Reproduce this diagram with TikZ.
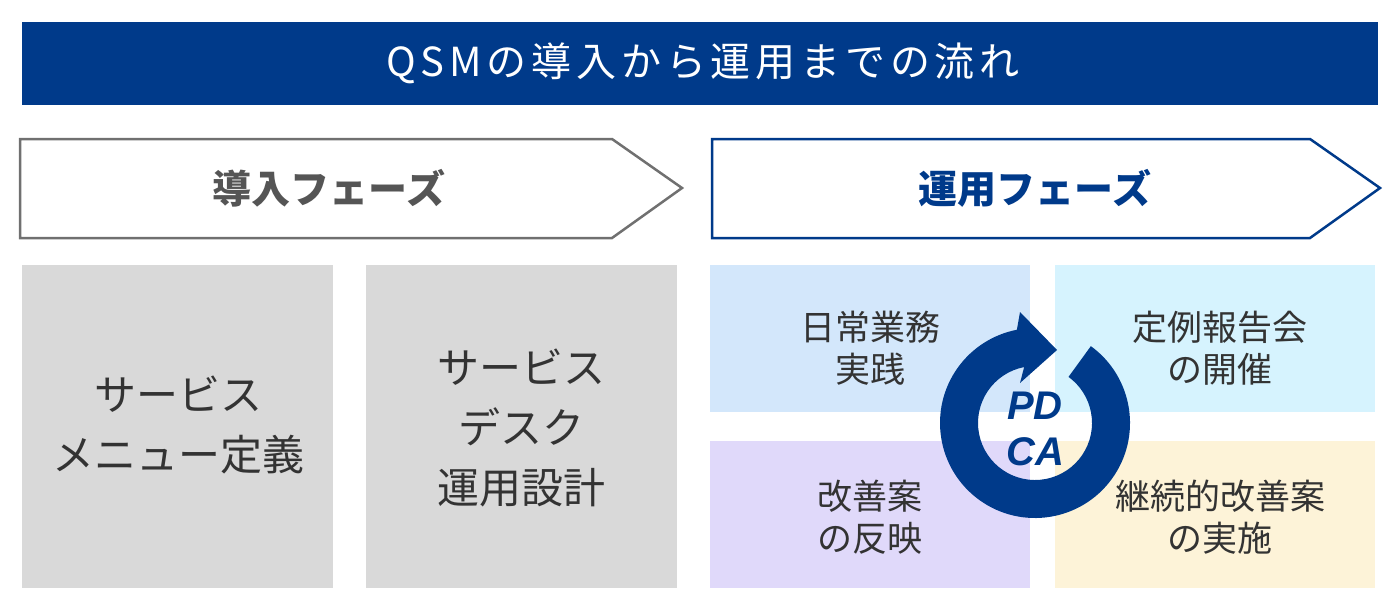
\documentclass[tikz,border=0pt]{standalone}
\usepackage{fontspec}
\setmainfont{Noto Sans CJK JP}
\newfontfamily\jpfont{Noto Sans CJK JP}
\newfontfamily\latinbi{Liberation Sans}
\definecolor{navy}{RGB}{0,58,138}
\definecolor{gstroke}{RGB}{112,112,112}
\definecolor{gtext}{RGB}{85,85,85}
\definecolor{gbox}{RGB}{217,217,217}
\definecolor{dtext}{RGB}{51,51,51}
\definecolor{qtl}{RGB}{211,231,251}
\definecolor{qtr}{RGB}{214,243,254}
\definecolor{qbl}{RGB}{224,217,250}
\definecolor{qbr}{RGB}{253,243,216}
\tikzset{
  phaselbl/.style={font=\jpfont\bfseries\fontsize{19.5}{22}\selectfont, inner sep=0pt},
  boxtxt/.style={font=\jpfont\fontsize{21}{30}\selectfont, text=dtext, align=center, inner sep=0pt},
  quadtxt/.style={font=\jpfont\fontsize{17.5}{21}\selectfont, text=dtext, align=center, inner sep=0pt},
}
\begin{document}
\begin{tikzpicture}[x=0.5pt,y=-0.5pt]
\useasboundingbox (0,0) rectangle (1400,611);
% title
\fill[navy] (22,22) rectangle (1378,105);
\node[inner sep=0pt, text=white, font=\jpfont\fontsize{20}{22}\selectfont\addfontfeature{LetterSpace=12}] (title) at (703,63) {QSMの導入から運用までの流れ};
% phase arrows
\draw[gstroke, line width=1.25pt, line join=miter] (20,139) -- (612,139) -- (682,188) -- (612,238) -- (20,238) -- cycle;
\node[phaselbl, text=gtext] (intro) at (329,188) {導入フェーズ};
\draw[navy, line width=1.25pt, line join=miter] (712,139) -- (1310,139) -- (1380,188) -- (1310,238) -- (712,238) -- cycle;
\node[phaselbl, text=navy] (ops) at (1035,188) {運用フェーズ};
% gray boxes
\fill[gbox] (22,265) rectangle (333,588);
\fill[gbox] (366,265) rectangle (677,588);
\node[boxtxt] (b1) at (178,425) {サービス\\メニュー定義};
\node[boxtxt] (b2) at (521,428) {サービス\\デスク\\運用設計};
% quadrants
\fill[qtl] (710,265) rectangle (1030,412);
\fill[qtr] (1055,265) rectangle (1375,412);
\fill[qbl] (710,441) rectangle (1030,588);
\fill[qbr] (1055,441) rectangle (1375,588);
\node[quadtxt] (q1) at (870,348) {日常業務\\実践};
\node[quadtxt] (q2) at (1220,348) {定例報告会\\の開催};
\node[quadtxt] (q3) at (870,517) {改善案\\の反映};
\node[quadtxt] (q4) at (1220,517) {継続的改善案\\の実施};
% PDCA cycle
\begin{scope}[shift={(1035,423)}, yscale=-1]
\fill[navy] (54:95) arc[start angle=54, end angle=-259, radius=95]
  -- (-15,111) -- (22,73) -- (-15,40) -- (-259:57)
  arc[start angle=-259, end angle=54, radius=57] -- cycle;
\end{scope}
\node[inner sep=0pt, text=navy, font=\latinbi\bfseries\itshape\fontsize{20}{23}\selectfont, align=center] (pdca) at (1035,429) {PD\\CA};
\end{tikzpicture}
\end{document}
